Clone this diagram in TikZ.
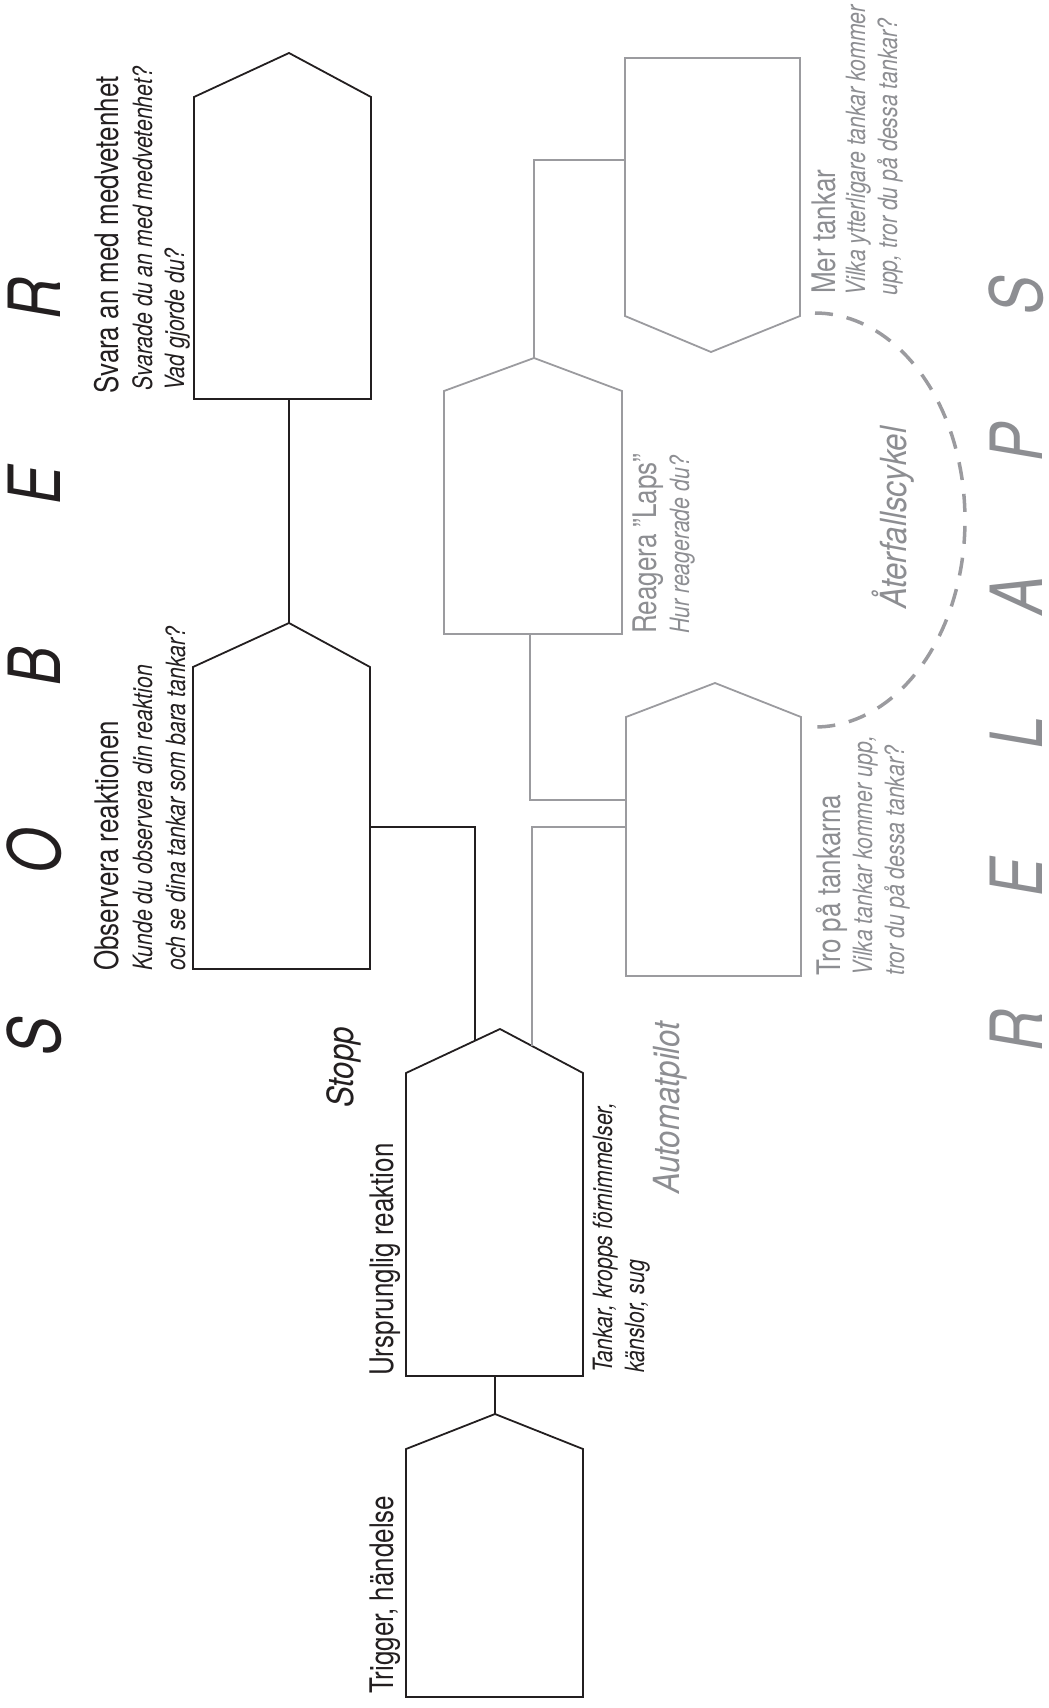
\documentclass[tikz,border=0pt]{standalone}
\usepackage{fontspec}
\setmainfont{TeX Gyre Heros}[FakeStretch=0.8]
\newfontfamily\labfont{TeX Gyre Heros}[FakeStretch=0.87]
\definecolor{ink}{HTML}{231F20}
\definecolor{grayline}{HTML}{9B9B9F}
\definecolor{graytext}{HTML}{8D8E92}
\begin{document}
\begin{tikzpicture}[x=1pt,y=-1pt,
  box/.style={draw=ink, line width=1.8pt, line join=miter},
  gbox/.style={draw=grayline, line width=1.8pt, line join=miter},
  conn/.style={draw=ink, line width=1.8pt},
  gconn/.style={draw=grayline, line width=1.8pt},
  mainlbl/.style={rotate=90, anchor=base west, inner sep=0pt, font=\fontsize{32.5}{39}\selectfont},
  sublbl/.style={rotate=90, anchor=base west, inner sep=0pt, font=\fontsize{26.6}{32}\selectfont\itshape},
  bigletter/.style={rotate=90, anchor=base, inner sep=0pt, text depth=0pt, font=\fontsize{72}{80}\selectfont\itshape},
  taglbl/.style={rotate=90, anchor=base west, inner sep=0pt, font=\labfont\fontsize{36}{40}\selectfont\itshape},
]
\useasboundingbox (0,0) rectangle (1049,1708);

% ---------- black boxes ----------
\draw[box] (194,399) -- (194,97) -- (289,53) coordinate (Rtop) -- (371,97) -- (371,399) -- cycle;
\coordinate (Rbot) at (289,399);
\draw[box] (193,969) -- (193,667) -- (289,623) coordinate (Btop) -- (370,667) -- (370,969) -- cycle;
\coordinate (Bright) at (370,827);
\draw[box] (406,1376) -- (406,1073) -- (500,1029) coordinate (Utop) -- (583,1073) -- (583,1376) -- cycle;
\coordinate (Uroofa) at (475,1041);
\coordinate (Uroofb) at (532,1046);
\coordinate (Ubot) at (495,1376);
\draw[box] (406,1697) -- (406,1449) -- (495,1414) coordinate (Ttop) -- (583,1449) -- (583,1697) -- cycle;

% ---------- gray boxes ----------
\draw[gbox] (444,634) -- (444,391) -- (534,358) coordinate (Gtop) -- (622,391) -- (622,634) -- cycle;
\coordinate (Gbot) at (530,634);
\draw[gbox] (626,976) -- (626,717) -- (715,683) coordinate (Ptop) -- (801,717) -- (801,976) -- cycle;
\coordinate (Plefta) at (626,800);
\coordinate (Pleftb) at (626,827);
\draw[gbox] (625,58) -- (800,58) -- (800,316) -- (711,352) coordinate (Mbot) -- (625,316) -- cycle;
\coordinate (Mleft) at (625,160);

% ---------- connectors ----------
\draw[conn] (Rbot) -- (Btop);
\draw[conn] (Bright) -| (Uroofa);
\draw[conn] (Ubot) -- (Ttop);
\draw[gconn] (Uroofb) |- (Pleftb);
\draw[gconn] (Gbot) |- (Plefta);
\draw[gconn] (Gtop) |- (Mleft);

% ---------- dashed relapse arc ----------
\draw[grayline, line width=3.5pt, dash pattern=on 18pt off 14pt]
  plot[domain=-90:90, samples=91] ({815+150*cos(\x)},{520+207*sin(\x)});

% ---------- SOBER ----------
\node[bigletter, text=ink] (lS1) at (60,1036) {S};
\node[bigletter, text=ink] (lO) at (60,851) {O};
\node[bigletter, text=ink] (lB) at (60,666) {B};
\node[bigletter, text=ink] (lE1) at (60,485) {E};
\node[bigletter, text=ink] (lR1) at (60,299) {R};

% ---------- RELAPS ----------
\node[bigletter, text=graytext] (lR2) at (1042,1031) {R};
\node[bigletter, text=graytext] (lE2) at (1042,877) {E};
\node[bigletter, text=graytext] (lL) at (1042,732) {L};
\node[bigletter, text=graytext] (lA) at (1042,595) {A};
\node[bigletter, text=graytext] (lP) at (1042,442) {P};
\node[bigletter, text=graytext] (lS2) at (1042,295) {S};

% ---------- black labels ----------
\node[mainlbl, text=ink] (t1) at (118,394) {Svara an med medvetenhet};
\node[sublbl, text=ink] (t2) at (152,391) {Svarade du an med medvetenhet?};
\node[sublbl, text=ink] (t3) at (184,391) {Vad gjorde du?};
\node[mainlbl, text=ink] (t4) at (118,971) {Observera reaktionen};
\node[sublbl, text=ink] (t5) at (152,971) {Kunde du observera din reaktion};
\node[sublbl, text=ink] (t6) at (185,971) {och se dina tankar som bara tankar?};
\node[taglbl, text=ink] (t7) at (353,1108) {Stopp};
\node[mainlbl, text=ink] (t8) at (393,1376) {Ursprunglig reaktion};
\node[sublbl, text=ink] (t9) at (612,1373) {Tankar, kropps förnimmelser,};
\node[sublbl, text=ink] (t10) at (644,1373) {känslor, sug};
\node[mainlbl, text=ink] (t11) at (393,1694) {Trigger, händelse};

% ---------- gray labels ----------
\node[mainlbl, text=graytext] (g1) at (656,634) {Reagera ”Laps”};
\node[sublbl, text=graytext] (g2) at (689,634) {Hur reagerade du?};
\node[mainlbl, text=graytext] (g3) at (840,976) {Tro på tankarna};
\node[sublbl, text=graytext] (g4) at (872,976) {Vilka tankar kommer upp,};
\node[sublbl, text=graytext] (g5) at (904,976) {tror du på dessa tankar?};
\node[mainlbl, text=graytext] (g6) at (835,294) {Mer tankar};
\node[sublbl, text=graytext] (g7) at (865,296) {Vilka ytterligare tankar kommer};
\node[sublbl, text=graytext] (g8) at (897,296) {upp, tror du på dessa tankar?};
\node[taglbl, text=graytext] (g9) at (679,1194) {Automatpilot};
\node[taglbl, text=graytext] (g10) at (906,609) {Återfallscykel};
\end{tikzpicture}
\end{document}
